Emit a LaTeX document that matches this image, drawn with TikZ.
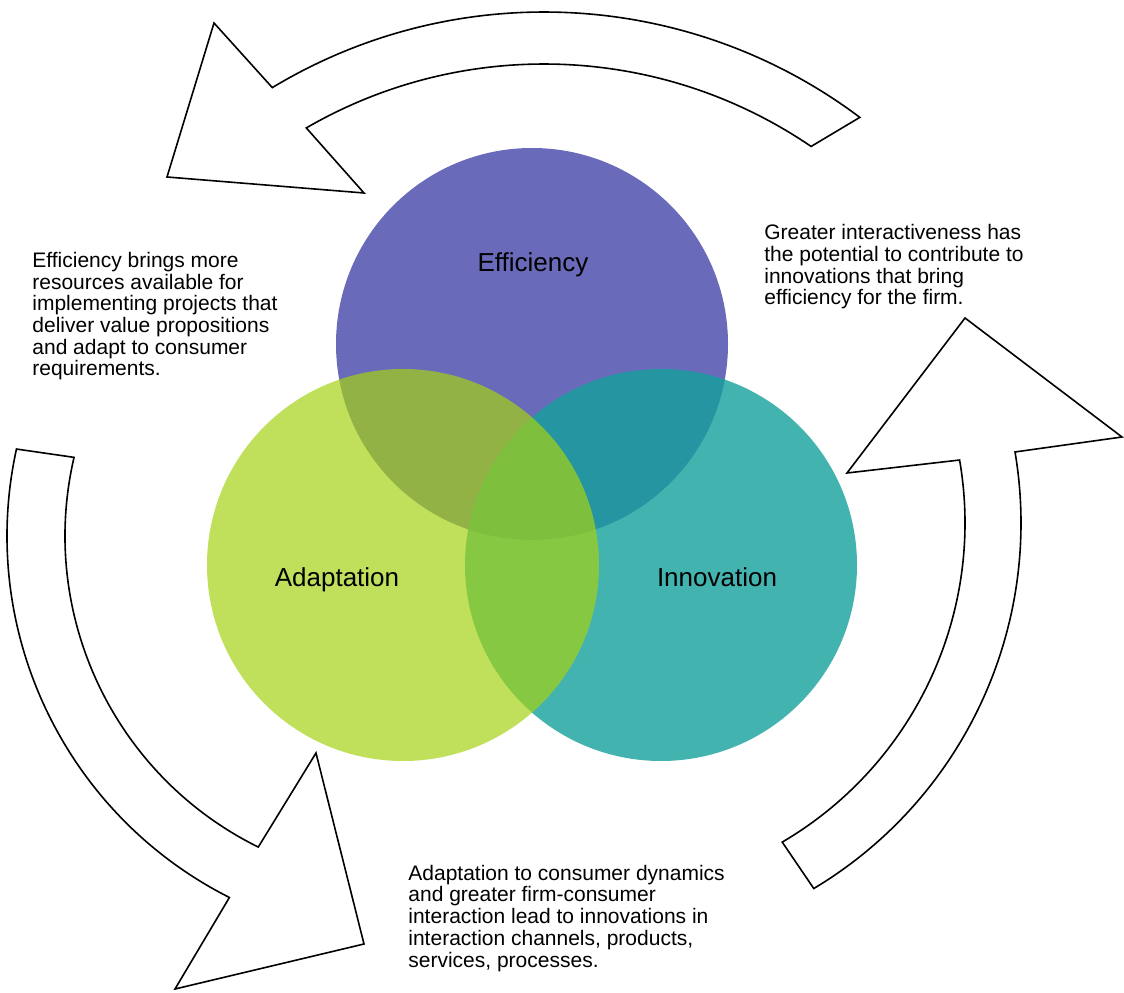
\documentclass[tikz,border=0pt]{standalone}
\usepackage{fontspec}
\setmainfont{Liberation Sans}
\usetikzlibrary{calc,positioning}
\definecolor{effblue}{RGB}{80,80,175}
\definecolor{innoteal}{RGB}{20,160,155}
\definecolor{adaptgreen}{RGB}{165,210,20}
\tikzstyle{ring} = [circle, minimum size=196pt, inner sep=0pt, draw=none]
\tikzstyle{bigarrow} = [draw=black, fill=white, line width=0.8pt, line join=miter]
\tikzstyle{title} = [font=\fontsize{13}{15}\selectfont, anchor=base, inner sep=0pt]
\tikzstyle{note} = [font=\fontsize{10.5}{10.85}\selectfont, align=left, anchor=base west, inner sep=0pt]

\begin{document}
\begin{tikzpicture}[x=0.5pt,y=0.5pt]
\useasboundingbox (0,0) rectangle (1124,992);

% the three cycle arrows
\coordinate (topc) at (544,454);
\coordinate (leftc) at (412,456);
\coordinate (rightc) at (595,469);
\draw[bigarrow] ($(topc)+(53.1:526)$) arc[start angle=53.1,end angle=121.1,radius=526]
  -- (214,969) -- (167,815) -- (364,799)
  -- ($(topc)+(120.1:474)$) arc[start angle=120.1,end angle=55.7,radius=474] -- cycle;
\draw[bigarrow] ($(leftc)+(167.6:405)$) arc[start angle=167.6,end angle=243.2,radius=405]
  -- (175,3) -- (364,48) -- (316,239)
  -- ($(leftc)+(243.7:347)$) arc[start angle=243.7,end angle=166.9,radius=347] -- cycle;
\draw[bigarrow] ($(rightc)+(-59.1:426)$) arc[start angle=-59.1,end angle=9.6,radius=426]
  -- (1122,555) -- (965,674) -- (847,519)
  -- ($(rightc)+(9.8:370)$) arc[start angle=9.8,end angle=-59.6,radius=370] -- cycle;

% circles
\node(eff) [ring, fill=effblue, fill opacity=0.85] at (532,648) {};
\node(innov) [ring, fill=innoteal, fill opacity=0.8] at (661,427) {};
\node(adapt) [ring, fill=adaptgreen, fill opacity=0.7] at (403,427) {};

\node(efftitle) [title] at (533,720) {Efficiency};
\node(adapttitle) [title] at (337,406) {Adaptation};
\node(innovtitle) [title] at (717,406) {Innovation};

% explanations (anchored at the last line)
\node(effnote) [note] at (32,616) {Efficiency brings more\\resources available for\\implementing projects that\\deliver value propositions\\and adapt to consumer\\requirements.};
\node(innovnote) [note] at (764,687) {Greater interactiveness has\\the potential to contribute to\\innovations that bring\\efficiency for the firm.};
\node(adaptnote) [note] at (408,25) {Adaptation to consumer dynamics\\and greater firm-consumer\\interaction lead to innovations in\\interaction channels, products,\\services, processes.};

\end{tikzpicture}
\end{document}
